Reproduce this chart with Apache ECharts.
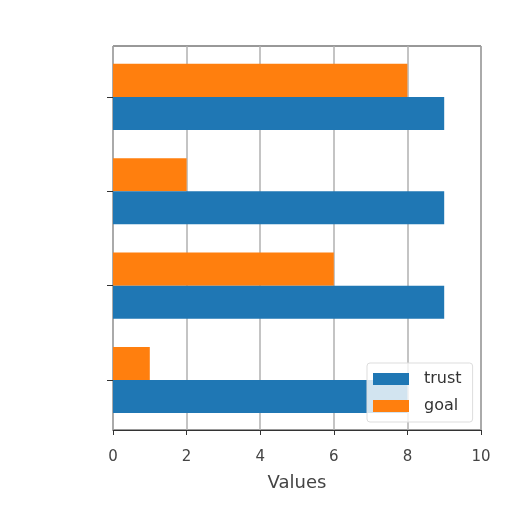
<!DOCTYPE html>
<html><head><meta charset="utf-8">
<script src="https://cdn.jsdelivr.net/npm/echarts@6/dist/echarts.min.js"></script>
<style>html,body{margin:0;padding:0;background:#fff}#c{width:512px;height:512px}</style>
</head><body><div id="c"></div>
<script>
const categories = ['A', 'B', 'C', 'D'];
const trust = [9, 9, 9, 8];
const goal = [8, 2, 6, 1];
const xTicks = [0, 2, 4, 6, 8, 10];

const chart = echarts.init(document.getElementById('c'));
chart.setOption({
  animation: false,
  backgroundColor: '#fff',
  grid: [
    { left: 113, right: 31, top: 46, bottom: 82, show: true, borderColor: '#333', borderWidth: 1, backgroundColor: 'transparent' },
    { left: 113, right: 31, top: 49.7, bottom: 84.8, show: false }
  ],
  xAxis: [{
    gridIndex: 0, type: 'value', min: 0, max: 10, interval: 2,
    name: 'Values', nameLocation: 'middle', nameGap: 44,
    nameTextStyle: { fontSize: 18, color: '#444', fontFamily: 'DejaVu Sans' },
    axisLine: { show: true, lineStyle: { color: '#333' } },
    axisTick: { show: true, length: 5, lineStyle: { color: '#333' } },
    axisLabel: { fontSize: 15, color: '#444', margin: 20, fontFamily: 'DejaVu Sans' },
    splitLine: { show: true, lineStyle: { color: '#b0b0b0', width: 1.5 } }
  }, {
    gridIndex: 1, type: 'value', min: 0, max: 10, interval: 2, show: false,
    splitLine: { show: false }
  }],
  yAxis: [{
    gridIndex: 0, type: 'value', min: 0, max: 1, show: false, splitLine: { show: false }
  }, {
    gridIndex: 1, type: 'category', data: categories, inverse: true,
    axisLine: { show: false },
    axisTick: { show: true, alignWithLabel: true, length: 6, lineStyle: { color: '#333' } },
    axisLabel: { show: false },
    splitLine: { show: false }
  }],
  legend: {
    orient: 'vertical', left: 367, top: 363,
    data: ['trust', 'goal'],
    icon: 'rect',
    itemWidth: 36, itemHeight: 12, itemGap: 11,
    backgroundColor: 'rgba(255,255,255,0.8)', borderColor: '#ddd', borderWidth: 1, borderRadius: 3,
    padding: [8, 11, 8, 6],
    textStyle: { fontSize: 16, color: '#333', fontFamily: 'DejaVu Sans', padding: [0, 0, 0, 10] }
  },
  series: [
    { name: 'goal', type: 'bar', xAxisIndex: 1, yAxisIndex: 1, data: goal, itemStyle: { color: '#ff7f0e' }, barWidth: '35%', barGap: '0%' },
    { name: 'trust', type: 'bar', xAxisIndex: 1, yAxisIndex: 1, data: trust, itemStyle: { color: '#1f77b4' }, barWidth: '35%', barGap: '0%' }
  ]
});
</script></body></html>
